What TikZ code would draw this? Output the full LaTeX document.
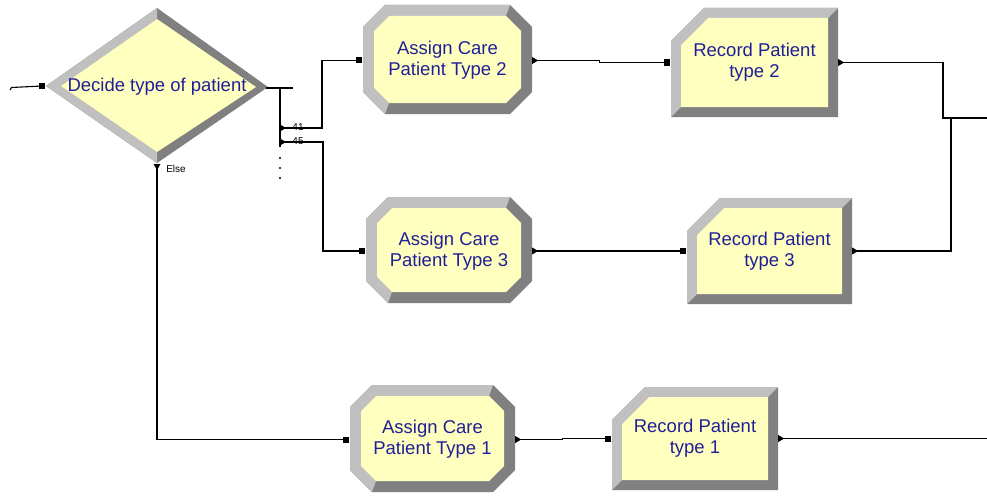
\documentclass[tikz,border=0pt]{standalone}
\usepackage{fontspec}
\setmainfont{Liberation Sans}
\usetikzlibrary{calc}

\definecolor{bevlight}{RGB}{192,192,192}
\definecolor{bevdark}{RGB}{128,128,128}
\definecolor{modfill}{RGB}{255,255,192}
\definecolor{modtext}{RGB}{32,32,150}

\tikzset{
  conn/.style={line width=1.1pt, black},
  modlabel/.style={font=\fontsize{18.5}{21}\selectfont, text=modtext, align=center, inner sep=0pt},
  portlabel/.style={font=\fontsize{10}{11}\selectfont, text=black, inner sep=0pt},
  insq/.pic={\fill[black] (-3,-3) rectangle (3,3);},
  outtri/.pic={\fill[black] (0,-3.5) -- (6,0) -- (0,3.5) -- cycle;},
  downtri/.pic={\fill[black] (-3.5,0) -- (3.5,0) -- (0,6) -- cycle;},
}

% Assign module: bevelled octagon. #1 name, #2..#5 outer box (x0,y0,x1,y1), #6 text
\newcommand\assignmod[6]{%
  \fill[bevdark] (#2+22,#3) -- (#4-22,#3) -- (#4,#3+22) -- (#4,#5-22) -- (#4-22,#5) -- (#2+22,#5) -- (#2,#5-22) -- (#2,#3+22) -- cycle;
  \fill[bevlight] (#2+22,#5) -- (#2,#5-22) -- (#2,#3+22) -- (#2+22,#3) -- (#4-22,#3) -- (#4-26,#3+11) -- (#2+26,#3+11) -- (#2+11,#3+26) -- (#2+11,#5-26) -- (#2+26,#5-11) -- cycle;
  \fill[modfill] (#2+26,#3+11) -- (#4-26,#3+11) -- (#4-11,#3+26) -- (#4-11,#5-26) -- (#4-26,#5-11) -- (#2+26,#5-11) -- (#2+11,#5-26) -- (#2+11,#3+26) -- cycle;
  \node[modlabel, minimum width={(#4-#2)*1pt}, minimum height={(#5-#3)*1pt}] (#1) at ({(#2+#4)/2},{(#3+#5)/2+1}) {#6};
  \coordinate (#1-in) at ([xshift=-3.5pt]#1.west);
  \coordinate (#1-out) at (#1.east);
  \pic at (#1-in) {insq};
  \pic at (#1-out) {outtri};
}

% Record module: bevelled box with a clipped top-left corner
\newcommand\recordmod[6]{%
  \fill[bevdark] (#2,#3+33) -- (#2+33,#3) -- (#4,#3) -- (#4,#5) -- (#2,#5) -- cycle;
  \fill[bevlight] (#2,#5) -- (#2,#3+33) -- (#2+33,#3) -- (#4,#3) -- (#4-10,#3+10) -- (#2+37,#3+10) -- (#2+10,#3+37) -- (#2+10,#5-10) -- cycle;
  \fill[modfill] (#2+10,#3+37) -- (#2+37,#3+10) -- (#4-10,#3+10) -- (#4-10,#5-10) -- (#2+10,#5-10) -- cycle;
  \node[modlabel, minimum width={(#4-#2)*1pt}, minimum height={(#5-#3)*1pt}] (#1) at ({(#2+#4)/2},{(#3+#5)/2}) {#6};
  \coordinate (#1-in) at ([xshift=-3.5pt]#1.west);
  \coordinate (#1-out) at (#1.east);
  \pic at (#1-in) {insq};
  \pic at (#1-out) {outtri};
}

\begin{document}
\begin{tikzpicture}[x=1pt, y=-1pt]
\useasboundingbox (0,0) rectangle (987,495);
\fill[white] (0,0) rectangle (987,495);

% Decide module
\fill[bevdark] (46,86) -- (157,8) -- (268,87) -- (157,163) -- cycle;
\fill[bevlight] (157,163) -- (46,86) -- (157,8) -- (157,19) -- (61,86) -- (157,152) -- cycle;
\fill[modfill] (61,86) -- (157,19) -- (256,87) -- (157,152) -- cycle;
\node[modlabel] (decide) at (157,87) {Decide type of patient};

% modules
\assignmod{a2}{363}{5}{532}{114}{Assign Care\\Patient Type 2}
\assignmod{a3}{366}{197}{532}{303}{Assign Care\\Patient Type 3}
\assignmod{a1}{350}{385}{515}{492}{Assign Care\\Patient Type 1}
\recordmod{r2}{671}{8}{838}{117}{Record Patient\\type 2}
\recordmod{r3}{687}{198}{852}{304}{Record Patient\\type 3}
\recordmod{r1}{612}{387}{778}{490}{Record Patient\\type 1}

% incoming connection
\coordinate (src) at (10,90);
\coordinate (decide-in) at (42,86);
\draw[conn] (src) -- ++(1.5,-2.5) -- (decide-in);
\pic at (decide-in) {insq};

% Decide exits
\coordinate (dtip) at (266,88);
\coordinate (dstub) at (293,88);
\coordinate (fan) at (280,88);
\coordinate (fanend) at (280,147);
\draw[conn] (dtip) -- (dstub);
\draw[conn] (fan) -- (fanend);
\coordinate (p41) at (280,128);
\coordinate (p45) at (280,142);
\draw[conn] (p41) -- ++(42,0) |- (a2-in);
\draw[conn] (p45) -- ++(43,0) |- (a3-in);
\pic at (p41) {outtri};
\pic at (p45) {outtri};
\node[portlabel] (l41) at (298,127.5) {41};
\node[portlabel] (l45) at (298,141.5) {45};
\foreach \yy in {158,168,178} \fill (280,\yy) circle (1.1);

\coordinate (pelse) at (157,164);
\draw[conn] (pelse) |- (a1-in);
\pic at (pelse) {downtri};
\node[portlabel] (lelse) at (176,169) {Else};

% module-to-module connections
\draw[conn] (a2-out) -- ++(67,0) |- (r2-in);
\draw[conn] (a3-out) -- ++(75,0) |- (r3-in);
\draw[conn] (a1-out) -- ++(47,0) |- (r1-in);

% outgoing connections
\coordinate (bendA) at (943,118);
\coordinate (mergeB) at (951,118);
\coordinate (edgeR) at (987,118);
\draw[conn] (r2-out) -| (bendA) -- (edgeR);
\draw[conn] (r3-out) -| (mergeB);
\draw[conn] (r1-out) -- (r1-out -| edgeR);
\end{tikzpicture}
\end{document}
